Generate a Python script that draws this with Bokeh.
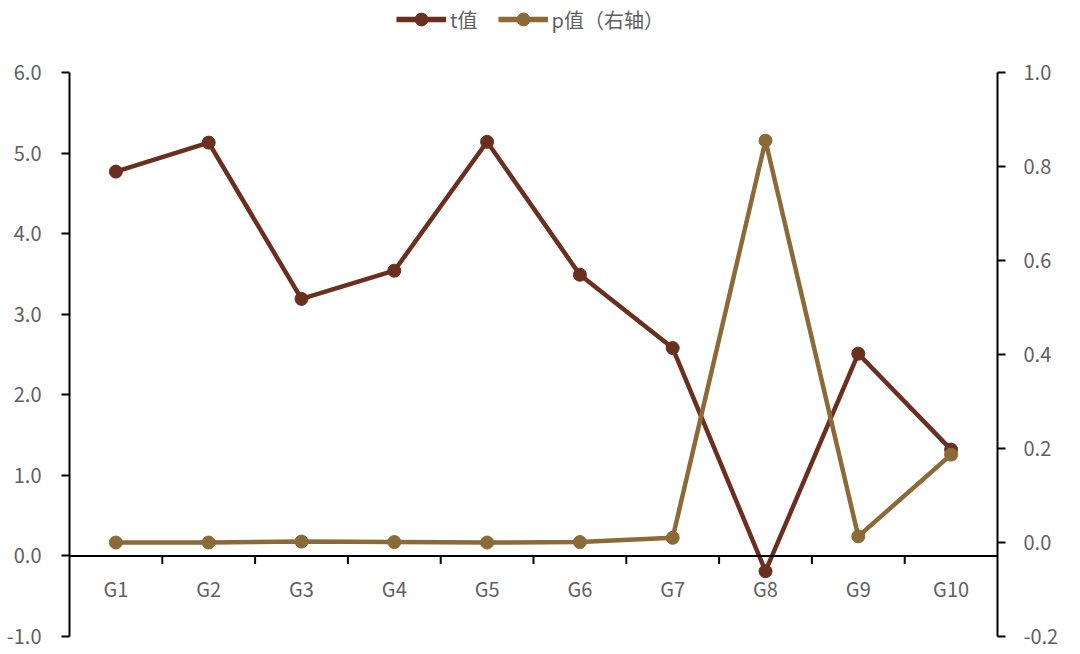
from bokeh.plotting import figure
from bokeh.layouts import column
from bokeh.models import Range1d, LinearAxis, FixedTicker, Legend, LegendItem, NumeralTickFormatter, ColumnDataSource, Span
from bokeh.core.properties import value
from bokeh.embed import file_html
from bokeh.resources import INLINE

categories = ["G1", "G2", "G3", "G4", "G5", "G6", "G7", "G8", "G9", "G10"]
t_values = [4.77, 5.13, 3.19, 3.54, 5.14, 3.49, 2.58, -0.19, 2.51, 1.32]
p_values = [0.000, 0.000, 0.002, 0.001, 0.000, 0.001, 0.010, 0.855, 0.013, 0.187]
left_ticks = [-1.0, 0.0, 1.0, 2.0, 3.0, 4.0, 5.0, 6.0]
right_ticks = [-0.2, 0.0, 0.2, 0.4, 0.6, 0.8, 1.0]
series_names = ["t值", "p值（右轴）"]

T_COLOR = "#6B2F20"
P_COLOR = "#8C6A37"
TXT = "#5f5f5f"
FONT = "Noto Sans CJK SC"
FS = "20px"

xs = list(range(1, len(categories) + 1))
src = ColumnDataSource(dict(x=xs, t=t_values, p=p_values, lab=categories, zero=[0] * len(xs)))
bounds = [i + 0.5 for i in xs[:-1]]
tick_src = ColumnDataSource(dict(x=bounds, y0=[0] * len(bounds), y1=[-0.1] * len(bounds)))

p = figure(width=1080, height=598, output_backend="svg", toolbar_location=None,
           x_range=Range1d(0.5, len(categories) + 0.5), y_range=Range1d(-1.0, 6.0),
           min_border_left=69, min_border_right=83, min_border_top=16, min_border_bottom=18)
p.outline_line_color = None
p.grid.visible = False
p.background_fill_color = "white"
p.xaxis.visible = False

# category axis at y=0
p.add_layout(Span(location=0, dimension="width", line_color="#000000", line_width=2))
p.segment(x0="x", y0="y0", x1="x", y1="y1", source=tick_src, line_color="#000000", line_width=2)
p.text(x="x", y="zero", text="lab", source=src, text_align="center", text_baseline="top",
       y_offset=18, text_font=value(FONT), text_font_size=FS, text_color=TXT)

def style_axis(ax, standoff):
    ax.formatter = NumeralTickFormatter(format="0.0")
    ax.major_tick_out = 8
    ax.major_tick_in = 0
    ax.minor_tick_out = 0
    ax.minor_tick_in = 0
    ax.axis_line_color = "#000000"
    ax.axis_line_width = 2
    ax.major_tick_line_color = "#000000"
    ax.major_tick_line_width = 2
    ax.major_label_standoff = standoff
    ax.major_label_text_font = FONT
    ax.major_label_text_font_size = FS
    ax.major_label_text_color = TXT

ly = p.yaxis[0]
ly.ticker = FixedTicker(ticks=left_ticks)
style_axis(ly, 20)

p.extra_y_ranges = {"p": Range1d(-0.2, 1.0)}
ry = LinearAxis(y_range_name="p")
ry.ticker = FixedTicker(ticks=right_ticks)
style_axis(ry, 18)
p.add_layout(ry, "right")

p.line("x", "t", source=src, line_color=T_COLOR, line_width=4.5)
p.scatter("x", "t", source=src, size=13, fill_color=T_COLOR, line_color=T_COLOR)
p.line("x", "p", source=src, line_color=P_COLOR, line_width=4.5, y_range_name="p")
p.scatter("x", "p", source=src, size=13, fill_color=P_COLOR, line_color=P_COLOR, y_range_name="p")

# legend strip above the plot
lf = figure(width=1080, height=56, output_backend="svg", toolbar_location=None,
            x_range=Range1d(0, 1), y_range=Range1d(0, 1),
            min_border_left=0, min_border_right=0, min_border_top=0, min_border_bottom=0)
lf.axis.visible = False
lf.grid.visible = False
lf.outline_line_color = None
ltl = lf.line("x", "t", source=src, line_color=T_COLOR, line_width=5.5, visible=False)
ltc = lf.scatter("x", "t", source=src, size=13, fill_color=T_COLOR, line_color=T_COLOR, visible=False)
lpl = lf.line("x", "p", source=src, line_color=P_COLOR, line_width=5.5, visible=False)
lpc = lf.scatter("x", "p", source=src, size=13, fill_color=P_COLOR, line_color=P_COLOR, visible=False)
legend = Legend(items=[LegendItem(label=series_names[0], renderers=[ltl, ltc]),
                       LegendItem(label=series_names[1], renderers=[lpl, lpc])],
                orientation="horizontal", location=(327, 21), click_policy="none",
                label_text_font=FONT, label_text_font_size=FS, label_text_color=TXT,
                glyph_width=50, glyph_height=32, spacing=20, label_standoff=4,
                border_line_color=None, background_fill_alpha=0, margin=0, padding=4)
lf.add_layout(legend, "center")

open("out.html", "w").write(file_html(column(lf, p, spacing=0), INLINE))
